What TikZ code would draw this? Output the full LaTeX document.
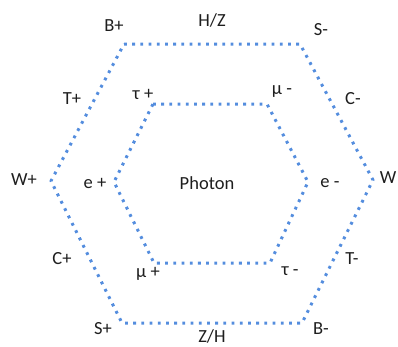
\documentclass[tikz,border=0pt]{standalone}
\usepackage{fontspec}
\setmainfont{Carlito}
\definecolor{dotblue}{RGB}{84,141,222}
\definecolor{txt}{RGB}{30,30,30}
\begin{document}
\begin{tikzpicture}[x=1pt,y=-1pt,
  hexline/.style={draw=dotblue,line width=3pt,dash pattern=on 2.8pt off 5.4pt,line join=round},
  lbl/.style={text=txt,font=\fontsize{18.5}{20}\selectfont,inner sep=0pt,anchor=center}]
\useasboundingbox (0,0) rectangle (398,346);
% outer hexagon
\coordinate (o1) at (124,44);
\coordinate (o2) at (300,44);
\coordinate (o3) at (373,180);
\coordinate (o4) at (302,323);
\coordinate (o5) at (122,323);
\coordinate (o6) at (51,181);
% inner hexagon
\coordinate (i1) at (153,104);
\coordinate (i2) at (267,104);
\coordinate (i3) at (308,182);
\coordinate (i4) at (270,263);
\coordinate (i5) at (154,263);
\coordinate (i6) at (114,182);
\draw[hexline] (o1) -- (o2) -- (o3) -- (o4) -- (o5) -- (o6) -- cycle;
\draw[hexline] (i1) -- (i2) -- (i3) -- (i4) -- (i5) -- (i6) -- cycle;
% outer labels
\node[lbl] (bp) at (114,26) {B+};
\node[lbl] (hz) at (212,20) {H/Z};
\node[lbl] (sm) at (321,30) {S-};
\node[lbl] (tp) at (72,99) {T+};
\node[lbl] (cm) at (353,99) {C-};
\node[lbl] (wp) at (24,180) {W+};
\node[lbl] (w) at (388,178) {W};
\node[lbl] (cp) at (62,259) {C+};
\node[lbl] (tm) at (352,259) {T-};
\node[lbl] (spl) at (103,329) {S+};
\node[lbl] (zh) at (212,336) {Z/H};
\node[lbl] (bm) at (321,329) {B-};
% inner labels
\node[lbl] (taup) at (143,94) {τ +};
\node[lbl] (mum) at (282,92) {μ -};
\node[lbl] (ep) at (95,183) {e +};
\node[lbl] (photon) at (207,183) {Photon};
\node[lbl] (em) at (330,183) {e -};
\node[lbl] (mup) at (148,274) {μ +};
\node[lbl] (taum) at (290,271) {τ -};
\end{tikzpicture}
\end{document}
